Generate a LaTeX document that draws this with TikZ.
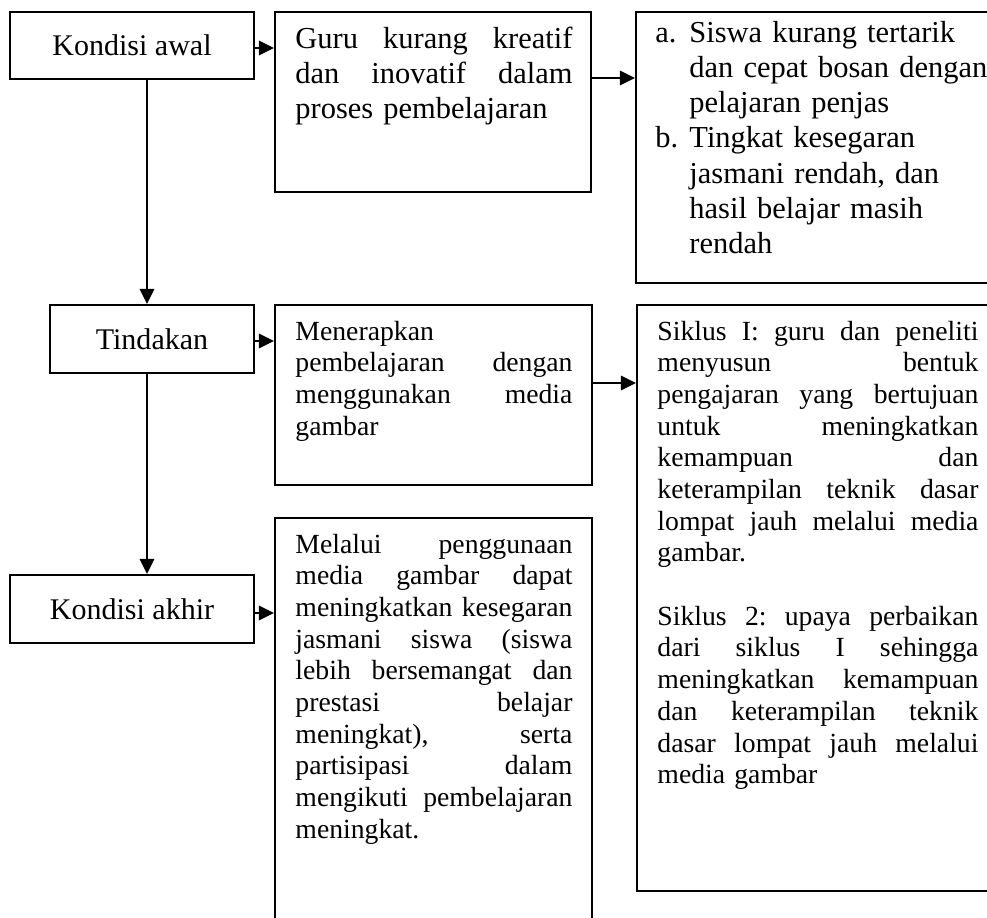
\documentclass[tikz,border=0pt]{standalone}
\usepackage{fontspec}
\setmainfont{Liberation Serif}
\usetikzlibrary{arrows.meta,calc,fit}
\newcommand\jl[1]{\leavevmode\hbox to\hsize{\frenchspacing\spaceskip=0pt\xspaceskip=0pt #1}\\}
\begin{document}
\frenchspacing
\begin{tikzpicture}[x=0.4332pt,y=-0.4332pt,
  box/.style={draw,line width=0.9pt,inner sep=0pt},
  lbl/.style={draw,line width=0.9pt,inner sep=0pt,font=\fontsize{13}{15}\selectfont},
  arr/.style={line width=0.9pt,-{Triangle[length=6.5pt,width=6.2pt]}},
  lotxt/.style={inner sep=0pt,anchor=base west,align=left,font=\fontsize{12}{13.73}\selectfont},
  uptxt/.style={inner sep=0pt,anchor=base west,align=left,font=\fontsize{13.2}{15.3}\selectfont},
]
\useasboundingbox (0,0) rectangle (987,917);
\begin{scope}
\clip (0,0) rectangle (987,917);
% label boxes
\node[lbl, minimum width=244*0.4332pt, minimum height=67*0.4332pt] (ka) at (132,45.5) {Kondisi awal};
\node[lbl, minimum width=204*0.4332pt, minimum height=68*0.4332pt] (tin) at (152,339) {Tindakan};
\node[lbl, minimum width=244*0.4332pt, minimum height=68*0.4332pt] (ka2) at (132,609) {Kondisi akhir};
% content boxes
\node[box, fit={(275,12) (591,192)}] (g) {};
\node[box, fit={(636,12) (1010,283)}] (b3) {};
\node[box, fit={(275,305) (592,485)}] (m) {};
\node[box, fit={(637,305) (1010,891)}] (sik) {};
\node[box, fit={(275,518) (592,950)}] (mel) {};
% texts
\node[uptxt, text width=277*0.4332pt] (gt) at (295,48) {\jl{Guru kurang kreatif}\jl{dan inovatif dalam}proses pembelajaran};
\node[uptxt, text width=150pt] (b3t) at (655,42) {\makebox[14.73pt][l]{a.}Siswa kurang tertarik\\
\hspace*{14.73pt}dan cepat bosan dengan\\
\hspace*{14.73pt}pelajaran penjas\\
\makebox[14.73pt][l]{b.}Tingkat kesegaran\\
\hspace*{14.73pt}jasmani rendah, dan\\
\hspace*{14.73pt}hasil belajar masih\\
\hspace*{14.73pt}rendah};
\node[lotxt, text width=277*0.4332pt] (mt) at (295,340) {Menerapkan\\\jl{pembelajaran dengan}\jl{menggunakan media}gambar};
\node[lotxt, text width=321*0.4332pt] (st) at (657,340) {\jl{Siklus I: guru dan peneliti}\jl{menyusun bentuk}\jl{pengajaran yang bertujuan}\jl{untuk meningkatkan}\jl{kemampuan dan}\jl{keterampilan teknik dasar}\jl{lompat jauh melalui media}gambar.\\
\mbox{}\\
\jl{Siklus 2: upaya perbaikan}\jl{dari siklus I sehingga}\jl{meningkatkan kemampuan}\jl{dan keterampilan teknik}\jl{dasar lompat jauh melalui}media gambar};
\node[lotxt, text width=277*0.4332pt] (melt) at (295,553) {\jl{Melalui penggunaan}\jl{media gambar dapat}\jl{meningkatkan kesegaran}\jl{jasmani siswa (siswa}\jl{lebih bersemangat dan}\jl{prestasi belajar}\jl{meningkat), serta}\jl{partisipasi dalam}\jl{mengikuti pembelajaran}meningkat.};
% arrows
\draw[arr] ($(ka.east)+(0,2.5)$) -- ($(ka.east -| g.west)+(0,2.5)$);
\draw[arr] ($(g.north east)+(0,67)$) -- ($(g.north east -| b3.west)+(0,67)$);
\coordinate (v1) at ($(ka.south west)+(138,0)$);
\draw[arr] (v1) -- (v1 |- tin.north);
\coordinate (v2) at ($(tin.south west)+(98,0)$);
\draw[arr] (v2) -- (v2 |- ka2.north);
\draw[arr] ($(tin.east)+(0,2)$) -- ($(tin.east -| m.west)+(0,2)$);
\draw[arr] ($(m.north east)+(0,79)$) -- ($(m.north east -| sik.west)+(0,79)$);
\draw[arr] ($(ka2.east)+(0,4)$) -- ($(ka2.east -| mel.west)+(0,4)$);
\end{scope}
\end{tikzpicture}
\end{document}
